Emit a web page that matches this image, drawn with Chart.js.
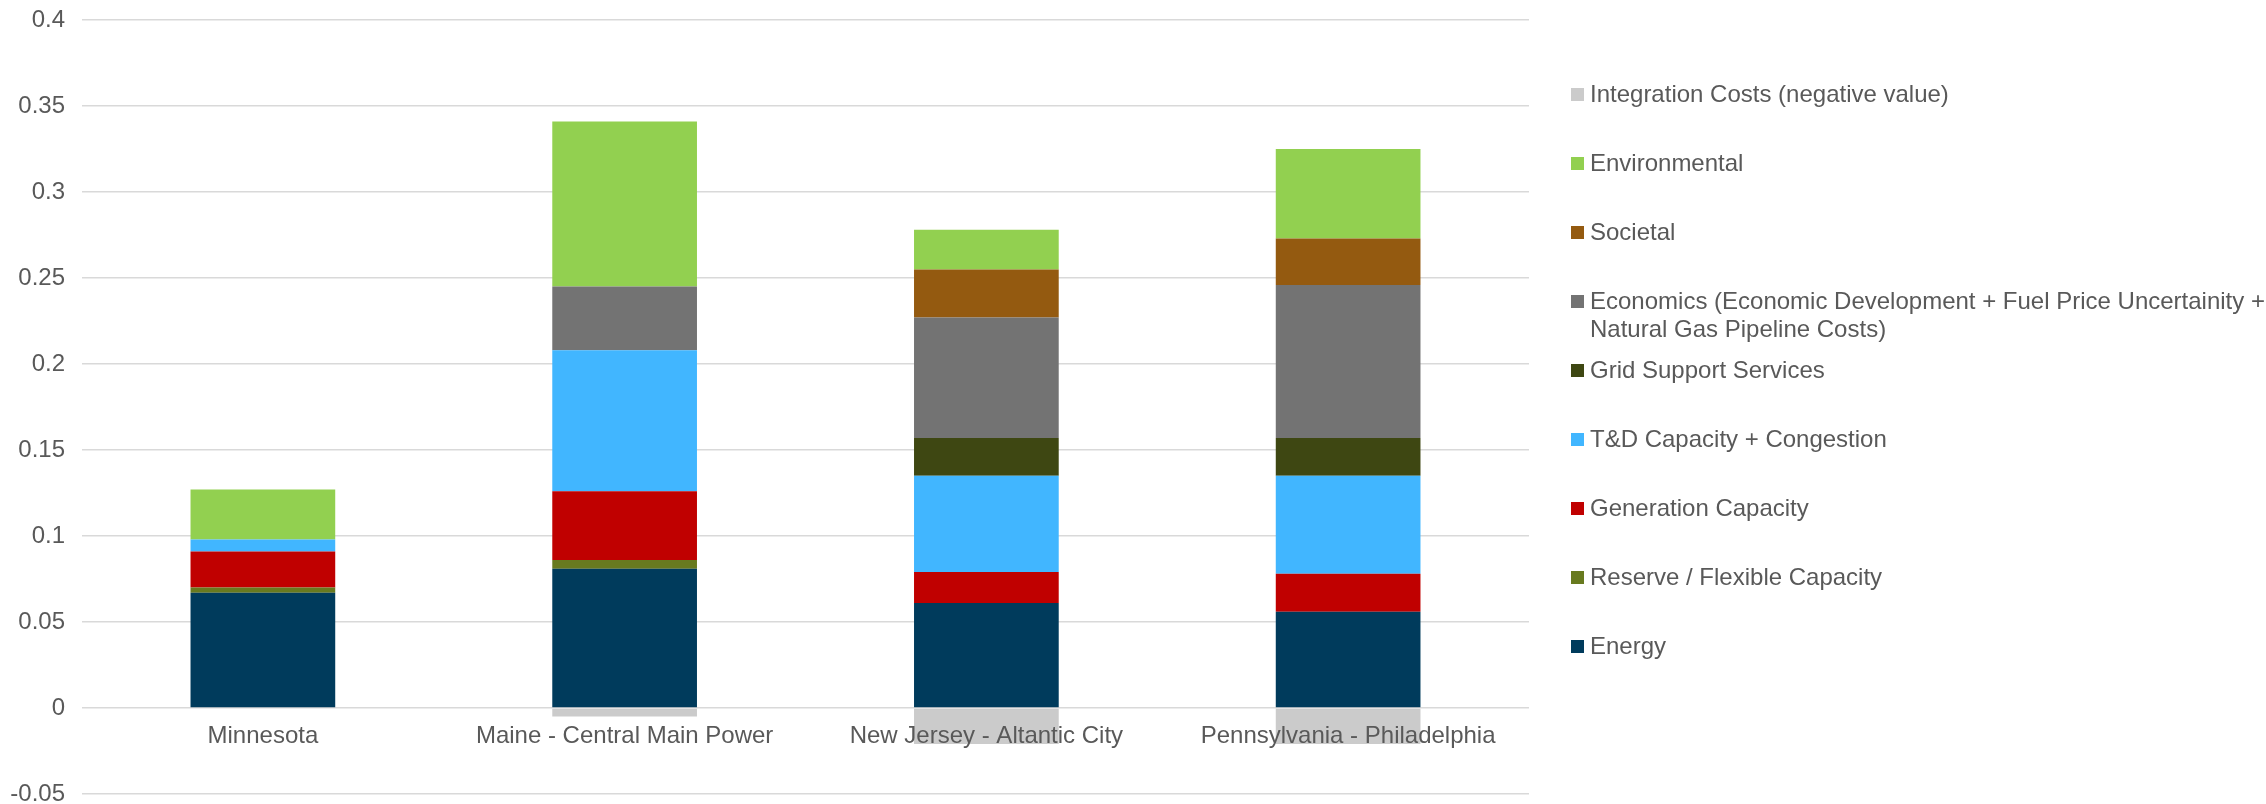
<!DOCTYPE html>
<html>
<head>
<meta charset="utf-8">
<script src="https://cdn.jsdelivr.net/npm/chart.js@4/dist/chart.umd.min.js"></script>
<style>
  html, body { margin: 0; padding: 0; background: #fff; }
  #wrap { position: relative; width: 2266px; height: 804px; }
  #chart { position: absolute; left: 0; top: 0; }
  #legend { position: absolute; left: 1571px; top: 80px; font-family: "Liberation Sans", Arial, sans-serif; font-size: 24px; color: #595959; }
  .item { height: 69px; display: flex; align-items: flex-start; }
  .box { width: 13px; height: 13px; margin-top: 8px; margin-right: 6px; flex: none; }
  .txt { line-height: 28px; white-space: pre; }
</style>
</head>
<body>
<div id="wrap">
  <canvas id="chart" width="2266" height="804"></canvas>
  <div id="legend"></div>
</div>
<script>
const categories = ['Minnesota', 'Maine - Central Main Power', 'New Jersey - Altantic City', 'Pennsylvania - Philadelphia'];

// series, bottom of the stack first
const energy        = [0.067, 0.081, 0.061, 0.056];
const reserve       = [0.003, 0.005, 0, 0];
const generation    = [0.021, 0.040, 0.018, 0.022];
const tdCapacity    = [0.007, 0.082, 0.056, 0.057];
const gridSupport   = [0, 0, 0.022, 0.022];
const economics     = [0, 0.037, 0.070, 0.089];
const societal      = [0, 0, 0.028, 0.027];
const environmental = [0.029, 0.096, 0.023, 0.052];
const integration   = [0, -0.005, -0.021, -0.021];

const yTicks = [-0.05, 0, 0.05, 0.1, 0.15, 0.2, 0.25, 0.3, 0.35, 0.4];

const seriesNames = [
  'Energy',
  'Reserve / Flexible Capacity',
  'Generation Capacity',
  'T&D Capacity + Congestion',
  'Grid Support Services',
  'Economics (Economic Development + Fuel Price Uncertainity +\nNatural Gas Pipeline Costs)',
  'Societal',
  'Environmental',
  'Integration Costs (negative value)'
];
const seriesValues = [energy, reserve, generation, tdCapacity, gridSupport, economics, societal, environmental, integration];
const seriesColors = ['#003b5c', '#687a1f', '#c00000', '#41b6ff', '#3e4712', '#737373', '#945a10', '#92d050', '#cbcbcb'];

const font = { family: '"Liberation Sans", Arial, sans-serif', size: 24 };

const datasets = seriesNames.map((name, i) => ({
  label: name,
  data: seriesValues[i],
  backgroundColor: seriesColors[i],
  borderWidth: 0,
  barPercentage: 0.4,
  categoryPercentage: 1.0,
}));

new Chart(document.getElementById('chart'), {
  type: 'bar',
  data: { labels: categories, datasets },
  options: {
    responsive: false,
    animation: false,
    layout: { padding: { left: 0, right: 737, top: 20, bottom: 10 } },
    plugins: {
      legend: { display: false },
      tooltip: { enabled: false },
    },
    scales: {
      x: {
        stacked: true,
        position: { y: 0 },
        grid: { display: false, drawTicks: false },
        border: { display: false },
        ticks: { font, color: '#595959', padding: 14, maxRotation: 0, autoSkip: false, z: 1 },
      },
      y: {
        stacked: true,
        min: -0.05,
        max: 0.4,
        afterBuildTicks: (scale) => { scale.ticks = yTicks.map(v => ({ value: v })); },
        afterFit: (scale) => {
          scale.width = 82;
          scale.paddingTop = 8;
          scale.paddingBottom = 8;
        },
        grid: { color: '#d9d9d9', lineWidth: 1.5, drawTicks: false },
        border: { display: false },
        ticks: {
          font, color: '#595959', padding: 17,
          callback: (v) => String(Math.round(v * 100) / 100),
        },
      },
    },
  },
});

// legend, drawn top to bottom in reverse stack order
const legend = document.getElementById('legend');
for (let i = seriesNames.length - 1; i >= 0; i--) {
  const item = document.createElement('div');
  item.className = 'item';
  const box = document.createElement('span');
  box.className = 'box';
  box.style.background = seriesColors[i];
  const txt = document.createElement('span');
  txt.className = 'txt';
  txt.textContent = seriesNames[i];
  item.appendChild(box);
  item.appendChild(txt);
  legend.appendChild(item);
}
</script>
</body>
</html>
